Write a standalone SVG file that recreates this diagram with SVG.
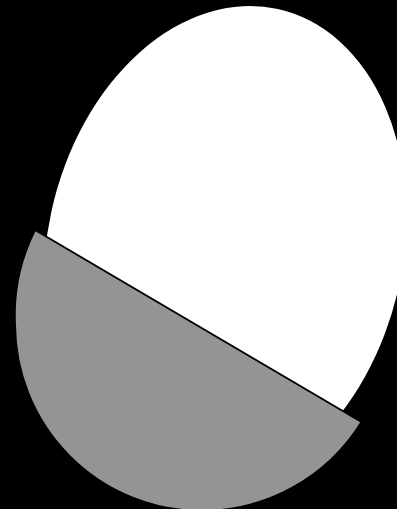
<svg xmlns="http://www.w3.org/2000/svg" width="397" height="509" viewBox="0 0 397 509">
  <style>
    .bg { fill: #000000; }
    .top { fill: #ffffff; stroke: none; }
    .shell { fill: #949494; stroke: #000000; stroke-width: 2; stroke-linejoin: round; }
  </style>
  <rect class="bg" x="0" y="0" width="397" height="509"/>
  <g id="egg-top">
    <ellipse class="top" cx="225" cy="249.3" rx="177.7" ry="246" transform="rotate(12.4 225 249.3)"/>
  </g>
  <g id="egg-bottom">
    <path class="shell" d="M 35,230 L 361.5,422 A 188 188 0 0 1 200,511 A 187 187 0 0 1 15,325 A 189 189 0 0 1 35,230 Z"/>
  </g>
</svg>
